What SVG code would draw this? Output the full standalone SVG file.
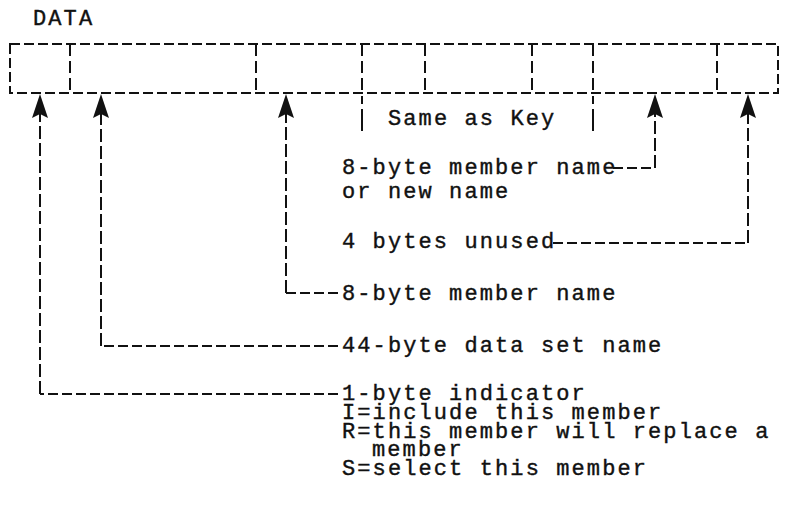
<svg xmlns="http://www.w3.org/2000/svg" width="785" height="506" viewBox="0 0 785 506">
  <style>
    text { font-family: "Liberation Mono", "DejaVu Sans Mono", monospace; font-size: 22px; letter-spacing: 2.1px; fill: #111; stroke: #111; stroke-width: 0.4; }
    .box { fill: none; stroke: #111; stroke-width: 2; stroke-dasharray: 10 4; }
    .div { fill: none; stroke: #111; stroke-width: 2; stroke-dasharray: 12 5; }
    .lead { fill: none; stroke: #111; stroke-width: 2; }
    .h { stroke-dasharray: 10 4; }
    .v { stroke-dasharray: 13 4; }
  </style>
  <defs>
    <marker id="head" viewBox="0 -9 26 18" refX="8" refY="0" markerWidth="26" markerHeight="18" markerUnits="userSpaceOnUse" orient="auto">
      <path d="M0,-8 L24,0 L0,8 L4,0 Z" fill="#111"/>
    </marker>
  </defs>
  <rect width="785" height="506" fill="#fff"/>

  <g id="title"><text x="33" y="25">DATA</text></g>

  <!-- record layout: outer frame and field separators -->
  <g id="record">
    <rect class="box" x="10" y="44" width="768" height="49"/>
    <line class="div" x1="70" y1="44" x2="70" y2="93"/>
    <line class="div" x1="256" y1="44" x2="256" y2="93"/>
    <line class="div" x1="362" y1="44" x2="362" y2="93"/>
    <line class="div" x1="425" y1="44" x2="425" y2="93"/>
    <line class="div" x1="532" y1="44" x2="532" y2="93"/>
    <line class="div" x1="593" y1="44" x2="593" y2="93"/>
    <line class="div" x1="717" y1="44" x2="717" y2="93"/>
  </g>

  <!-- bracket under the key fields -->
  <g id="same-as-key">
    <line class="lead" x1="362" y1="96" x2="362" y2="131" stroke-dasharray="8 5 22"/>
    <line class="lead" x1="593" y1="96" x2="593" y2="131" stroke-dasharray="8 5 22"/>
    <text x="388" y="125">Same as Key</text>
  </g>

  <g id="connectors">
    <path class="lead v" d="M655,168 V110" marker-end="url(#head)"/>
    <path class="lead h" d="M613,168 H655"/>
    <path class="lead v" d="M748,243 V110" marker-end="url(#head)"/>
    <path class="lead h" d="M553,243 H748"/>
    <path class="lead v" d="M286,293 V110" marker-end="url(#head)"/>
    <path class="lead h" d="M338,293 H286"/>
    <path class="lead v" d="M101,346 V110" marker-end="url(#head)"/>
    <path class="lead h" d="M338,346 H101"/>
    <path class="lead v" d="M40,394 V110" marker-end="url(#head)"/>
    <path class="lead h" d="M338,394 H40"/>
  </g>

  <g id="new-name">
    <text x="342" y="174">8-byte member name</text>
    <text x="342" y="198">or new name</text>
  </g>
  <g id="unused"><text x="342" y="248">4 bytes unused</text></g>
  <g id="member-name"><text x="342" y="300">8-byte member name</text></g>
  <g id="dsname"><text x="342" y="352">44-byte data set name</text></g>
  <g id="indicator">
    <text x="342" y="400">1-byte indicator</text>
    <text x="342" y="419">I=include this member</text>
    <text x="342" y="438">R=this member will replace a</text>
    <text x="372" y="456">member</text>
    <text x="342" y="475">S=select this member</text>
  </g>
</svg>
